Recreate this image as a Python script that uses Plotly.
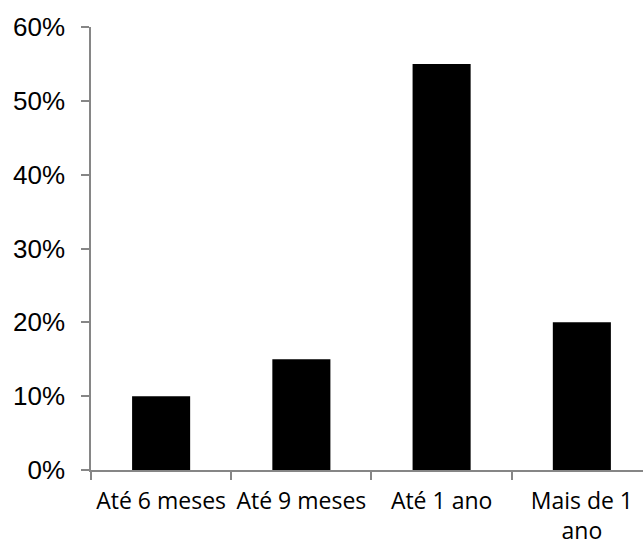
import plotly.graph_objects as go

categories = ["Até 6 meses", "Até 9 meses", "Até 1 ano", "Mais de 1<br>ano"]
values = [10, 15, 55, 20]
y_ticks = [0, 10, 20, 30, 40, 50, 60]
y_tick_labels = ["0%", "10%", "20%", "30%", "40%", "50%", "60%"]

fig = go.Figure(go.Bar(x=categories, y=values, marker=dict(color="black", line=dict(width=0))))

axis_color = "#868686"
fig.update_layout(
    width=643, height=547,
    margin=dict(l=91, r=0, t=27, b=77),
    paper_bgcolor="white", plot_bgcolor="white",
    bargap=0.586,
    showlegend=False,
    xaxis=dict(
        range=[-0.5, 3.436], automargin=False,
        showline=True, linecolor=axis_color, linewidth=1.5,
        ticks="outside", tickson="boundaries", ticklen=8, tickcolor=axis_color, tickwidth=1.5,
        tickfont=dict(family="Open Sans", size=23, color="black"),
        ticklabelstandoff=10,
        showgrid=False, zeroline=False,
    ),
    yaxis=dict(
        range=[0, 60], automargin=False,
        tickvals=y_ticks, ticktext=y_tick_labels,
        showline=True, linecolor=axis_color, linewidth=1.5,
        ticks="outside", ticklen=8, tickcolor=axis_color, tickwidth=1.5,
        tickfont=dict(family="Liberation Sans, Arial", size=26, color="black"),
        ticklabelstandoff=11,
        showgrid=False, zeroline=False,
    ),
)

fig.write_html(
    "out.html",
    config={"displayModeBar": False},
    post_script="document.body.style.margin='0';document.body.style.overflow='hidden';",
)
